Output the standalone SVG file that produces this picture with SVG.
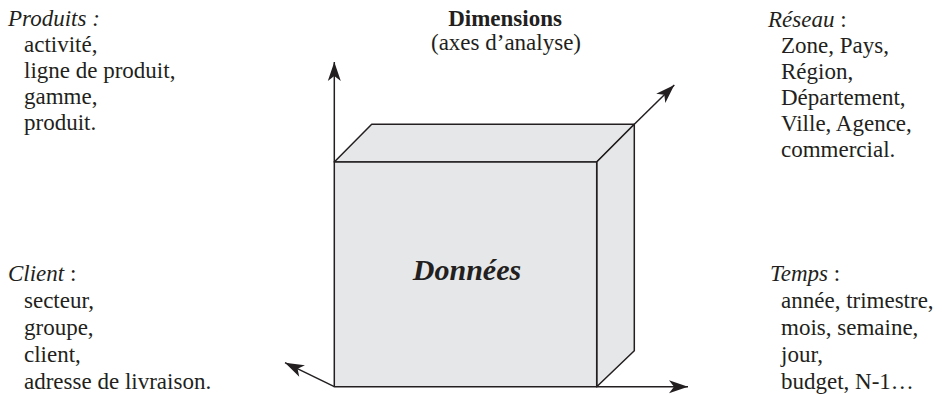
<svg xmlns="http://www.w3.org/2000/svg" width="942" height="394" viewBox="0 0 942 394">
<style>
.t{font-family:"Liberation Serif","Times New Roman",serif;font-size:23px;fill:#231f20}
.i{font-style:italic}
.b{font-weight:bold}
.face{fill:#e6e7e8;stroke:#231f20;stroke-width:1.5;stroke-linejoin:round}
.ax{stroke:#231f20;stroke-width:1.5;fill:none;marker-end:url(#ah)}
</style>
<defs>
<marker id="ah" markerUnits="userSpaceOnUse" markerWidth="24" markerHeight="16" viewBox="-21 -8 23 16" refX="0" refY="0" orient="auto">
<path d="M0,0 L-19,-6.5 L-14,0 L-19,6.5 Z" fill="#231f20"/>
</marker>
</defs>
<rect width="942" height="394" fill="#fff"/>
<g id="connectors">
<path class="ax" d="M334.3,162 V62"/>
<path class="ax" d="M634.3,124.3 L674.3,85"/>
<path class="ax" d="M334.3,386.7 L285,362.7"/>
<path class="ax" d="M596.7,386.7 H688"/>
</g>
<g id="cube">
<polygon class="face" points="334.3,162 371.7,124.3 634.3,124.3 596.7,162"/>
<polygon class="face" points="596.7,162 634.3,124.3 634.3,350.7 596.7,386.7"/>
<rect class="face" x="334.3" y="162" width="262.4" height="224.7"/>
<text class="t i b" x="467" y="280" text-anchor="middle" style="font-size:30px">Données</text>
</g>
<g id="dimensions">
<text class="t b" x="505" y="26" text-anchor="middle">Dimensions</text>
<text class="t" x="506" y="50" text-anchor="middle">(axes d’analyse)</text>
</g>
<g id="produits">
<text class="t i" x="8" y="26">Produits :</text>
<text class="t" x="24" y="52">activité,</text>
<text class="t" x="24" y="78">ligne de produit,</text>
<text class="t" x="24" y="104">gamme,</text>
<text class="t" x="24" y="130">produit.</text>
</g>
<g id="reseau">
<text class="t" x="768" y="27"><tspan class="i">Réseau</tspan> :</text>
<text class="t" x="781" y="53">Zone, Pays,</text>
<text class="t" x="781" y="79">Région,</text>
<text class="t" x="781" y="105">Département,</text>
<text class="t" x="781" y="131">Ville, Agence,</text>
<text class="t" x="781" y="157">commercial.</text>
</g>
<g id="client">
<text class="t" x="8" y="281"><tspan class="i">Client</tspan> :</text>
<text class="t" x="24" y="308">secteur,</text>
<text class="t" x="24" y="335">groupe,</text>
<text class="t" x="24" y="362">client,</text>
<text class="t" x="24" y="389">adresse de livraison.</text>
</g>
<g id="temps">
<text class="t" x="770" y="281"><tspan class="i">Temps</tspan> :</text>
<text class="t" x="781" y="308">année, trimestre,</text>
<text class="t" x="781" y="335">mois, semaine,</text>
<text class="t" x="781" y="362">jour,</text>
<text class="t" x="781" y="389">budget, N-1…</text>
</g>
</svg>
